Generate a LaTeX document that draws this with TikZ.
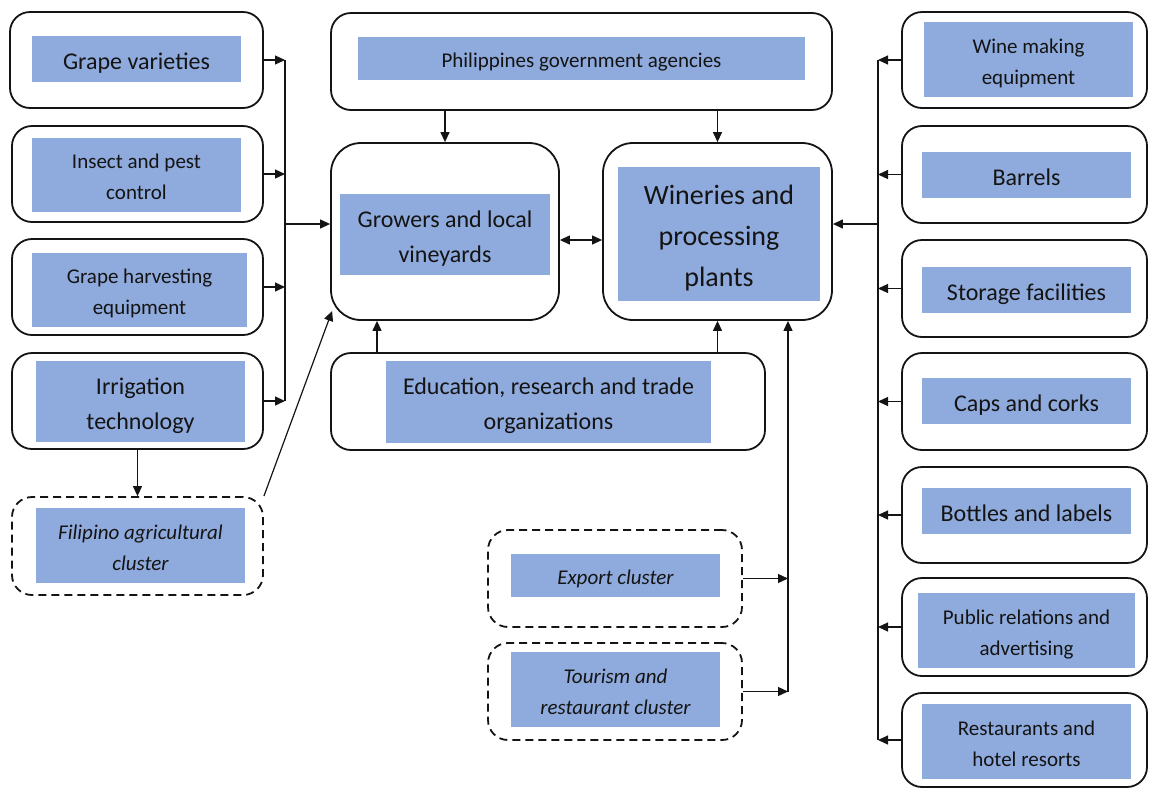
\documentclass[tikz,border=0pt]{standalone}
\usepackage{fontspec}
\setmainfont{Carlito}
\usetikzlibrary{arrows.meta,calc}
\definecolor{boxblue}{RGB}{143,170,220}
\definecolor{ink}{RGB}{20,20,20}
\newcommand{\bt}[1]{\raisebox{-3pt}[\height][\depth]{\begin{tabular}{@{}c@{}}#1\end{tabular}}}
\begin{document}
\begin{tikzpicture}[x=1pt,y=-1pt,
  outerbox/.style={draw=ink, line width=1.8pt, rounded corners=20pt, inner sep=0pt, fill=white},
  dashbox/.style={outerbox, dash pattern=on 8pt off 5pt},
  bluebox/.style={fill=boxblue, inner sep=0pt, text=ink},
  fA/.style={font=\fontsize{21}{31}\selectfont},
  fB/.style={font=\fontsize{24}{35}\selectfont},
  fC/.style={font=\fontsize{28}{41}\selectfont},
  fI/.style={font=\fontsize{21}{31}\selectfont\itshape},
  arr/.style={draw=ink, line width=1.2pt, -{Triangle[length=10pt,width=9pt]}},
  dbl/.style={draw=ink, line width=1.2pt, {Triangle[length=10pt,width=9pt]}-{Triangle[length=10pt,width=9pt]}},
  ln/.style={draw=ink, line width=1.2pt}]
\useasboundingbox (0,0) rectangle (1149,788);

% ---------- left column ----------
\node[outerbox, minimum width=253pt, minimum height=96pt] (gv) at (136.5,60) {};
\node[bluebox, fB, minimum width=209pt, minimum height=46pt] (gvt) at (136.5,59) {\bt{Grape varieties}};
\node[outerbox, minimum width=251pt, minimum height=96pt] (ip) at (137.5,174) {};
\node[bluebox, fA, minimum width=209pt, minimum height=74pt] (ipt) at (136.5,175) {\bt{Insect and pest\\control}};
\node[outerbox, minimum width=251pt, minimum height=96pt] (gh) at (137.5,287) {};
\node[bluebox, fA, minimum width=215pt, minimum height=74pt] (ght) at (139.5,290) {\bt{Grape harvesting\\equipment}};
\node[outerbox, minimum width=251pt, minimum height=96pt] (ir) at (137.5,401) {};
\node[bluebox, fB, minimum width=209pt, minimum height=81pt] (irt) at (140.5,401.5) {\bt{Irrigation\\technology}};
\node[dashbox, minimum width=251pt, minimum height=98pt] (fa) at (137.5,546) {};
\node[bluebox, fI, minimum width=209pt, minimum height=75pt] (fat) at (140.5,545.5) {\bt{Filipino agricultural\\cluster}};

% ---------- centre ----------
\node[outerbox, minimum width=501pt, minimum height=97pt] (pg) at (581.5,61.5) {};
\node[bluebox, fA, minimum width=447pt, minimum height=43pt] (pgt) at (581.5,58.5) {\bt{Philippines government agencies}};
\node[outerbox, rounded corners=30pt, minimum width=228pt, minimum height=177pt] (gr) at (445,231.5) {};
\node[bluebox, fB, minimum width=210pt, minimum height=81pt] (grt) at (445,234.5) {\bt{Growers and local\\vineyards}};
\node[outerbox, rounded corners=30pt, minimum width=229pt, minimum height=177pt] (wp) at (717.5,231.5) {};
\node[bluebox, fC, minimum width=202pt, minimum height=134pt] (wpt) at (719,234) {\bt{Wineries and\\processing\\plants}};
\node[outerbox, minimum width=434pt, minimum height=97pt] (ed) at (548,401.5) {};
\node[bluebox, fB, minimum width=325pt, minimum height=82pt] (edt) at (548.5,402) {\bt{Education, research and trade\\organizations}};
\node[dashbox, minimum width=254pt, minimum height=97pt] (ex) at (615,578.5) {};
\node[bluebox, fI, minimum width=209pt, minimum height=43pt] (ext) at (615.5,575.5) {\bt{Export cluster}};
\node[dashbox, minimum width=254pt, minimum height=97pt] (tr) at (615,691.5) {};
\node[bluebox, fI, minimum width=209pt, minimum height=75pt] (trt) at (615.5,689.5) {\bt{Tourism and\\restaurant cluster}};

% ---------- right column ----------
\node[outerbox, minimum width=245pt, minimum height=96pt] (wm) at (1024.5,60) {};
\node[bluebox, fA, minimum width=209pt, minimum height=75pt] (wmt) at (1028.5,59.5) {\bt{Wine making\\equipment}};
\node[outerbox, minimum width=245pt, minimum height=97pt] (ba) at (1024.5,174.5) {};
\node[bluebox, fB, minimum width=209pt, minimum height=46pt] (bat) at (1026.5,175) {\bt{Barrels}};
\node[outerbox, minimum width=245pt, minimum height=97pt] (st) at (1024.5,288.5) {};
\node[bluebox, fB, minimum width=209pt, minimum height=46pt] (stt) at (1026.5,290) {\bt{Storage facilities}};
\node[outerbox, minimum width=245pt, minimum height=97pt] (ca) at (1024.5,401.5) {};
\node[bluebox, fB, minimum width=209pt, minimum height=46pt] (cat) at (1026.5,401) {\bt{Caps and corks}};
\node[outerbox, minimum width=245pt, minimum height=96pt] (bo) at (1024.5,515) {};
\node[bluebox, fB, minimum width=209pt, minimum height=46pt] (bot) at (1026.5,511) {\bt{Bottles and labels}};
\node[outerbox, minimum width=245pt, minimum height=98pt] (pr) at (1024.5,627) {};
\node[bluebox, fA, minimum width=217pt, minimum height=75pt] (prt) at (1026.5,630.5) {\bt{Public relations and\\advertising}};
\node[outerbox, minimum width=245pt, minimum height=94pt] (re) at (1024.5,740) {};
\node[bluebox, fA, minimum width=209pt, minimum height=75pt] (ret) at (1026.5,741.5) {\bt{Restaurants and\\hotel resorts}};

% ---------- helper coordinates ----------
\coordinate (lbus) at (285,0);
\coordinate (lbm) at (285,224);
\coordinate (rbus) at (878,0);
\coordinate (rbm) at (878,224);
\coordinate (ebus) at (788,0);
\coordinate (dm) at (581,240);
\coordinate (eu) at (377,0);

% ---------- left connectors ----------
\draw[arr] (gv.east) -- (gv.east -| lbus);
\draw[arr] (ip.east) -- (ip.east -| lbus);
\draw[arr] (gh.east) -- (gh.east -| lbus);
\draw[arr] (ir.east) -- (ir.east -| lbus);
\draw[ln] (gv.east -| lbus) -- (ir.east -| lbus);
\draw[arr] (lbm) -- (gr.west |- lbm);
\draw[arr] (ir.south) -- (fa.north);
\draw[arr] (fa.north east) -- ($(gr.south west)+(2,-10)$);

% ---------- centre connectors ----------
\draw[arr] (gr.north |- pg.south) -- (gr.north);
\draw[arr] (wp.north |- pg.south) -- (wp.north);
\draw[dbl] (gr.east |- dm) -- (wp.west |- dm);
\draw[arr] (eu |- ed.north) -- (eu |- gr.south);
\draw[arr] (wp.south |- ed.north) -- (wp.south);
\draw[arr] (ex.east) -- (ex.east -| ebus);
\draw[arr] (tr.east) -- (tr.east -| ebus);
\draw[arr] (tr.east -| ebus) -- (ebus |- wp.south);

% ---------- right connectors ----------
\draw[arr] (wm.west) -- (wm.west -| rbus);
\draw[arr] (ba.west) -- (ba.west -| rbus);
\draw[arr] (st.west) -- (st.west -| rbus);
\draw[arr] (ca.west) -- (ca.west -| rbus);
\draw[arr] (bo.west) -- (bo.west -| rbus);
\draw[arr] (pr.west) -- (pr.west -| rbus);
\draw[arr] (re.west) -- (re.west -| rbus);
\draw[ln] (wm.west -| rbus) -- (re.west -| rbus);
\draw[arr] (rbm) -- (wp.east |- rbm);
\end{tikzpicture}
\end{document}
